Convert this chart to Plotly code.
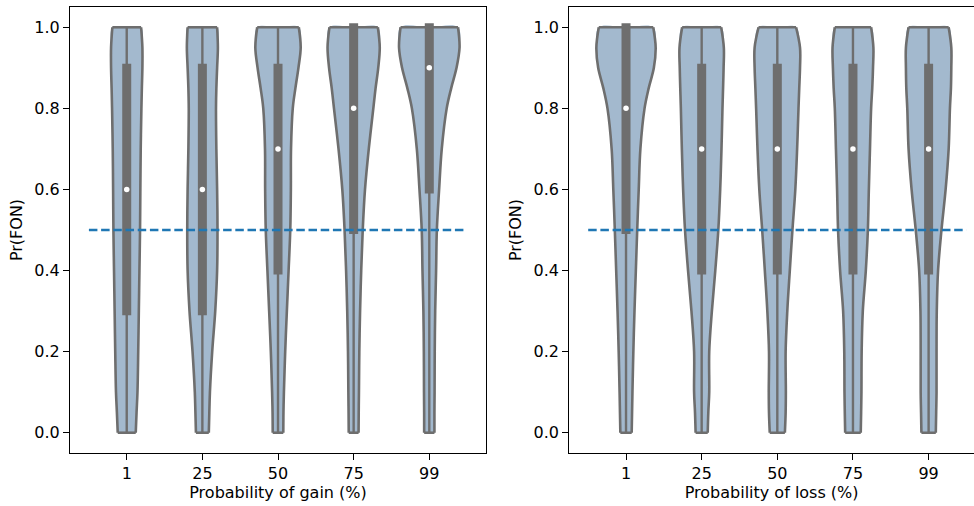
import plotly.graph_objects as go

# ---------------- data ----------------
gain_labels = ["1", "25", "50", "75", "99"]
loss_labels = ["1", "25", "50", "75", "99"]

# density profile grid (Pr(FON) values) and violin half-widths (category units)
grid = [0.0, 0.05, 0.1, 0.2, 0.3, 0.4, 0.5, 0.6, 0.7, 0.8, 0.85, 0.9, 0.95, 1.0]

gain_halfwidths = [
    [0.119, 0.13, 0.142, 0.152, 0.16, 0.168, 0.176, 0.18, 0.185, 0.194, 0.2, 0.207, 0.207, 0.19],
    [0.085, 0.092, 0.1, 0.13, 0.17, 0.195, 0.2, 0.195, 0.185, 0.18, 0.185, 0.195, 0.205, 0.195],
    [0.07, 0.072, 0.078, 0.095, 0.117, 0.14, 0.162, 0.17, 0.172, 0.195, 0.23, 0.27, 0.30, 0.275],
    [0.065, 0.067, 0.07, 0.075, 0.085, 0.1, 0.12, 0.15, 0.2, 0.26, 0.29, 0.325, 0.345, 0.32],
    [0.068, 0.068, 0.07, 0.072, 0.078, 0.09, 0.1, 0.13, 0.165, 0.23, 0.29, 0.36, 0.40, 0.38],
]
loss_halfwidths = [
    [0.075, 0.08, 0.085, 0.097, 0.112, 0.13, 0.148, 0.168, 0.19, 0.245, 0.3, 0.368, 0.392, 0.36],
    [0.08, 0.088, 0.1, 0.1, 0.135, 0.18, 0.22, 0.245, 0.262, 0.275, 0.283, 0.29, 0.293, 0.258],
    [0.1, 0.11, 0.113, 0.11, 0.132, 0.165, 0.2, 0.238, 0.262, 0.28, 0.29, 0.3, 0.3, 0.248],
    [0.103, 0.108, 0.112, 0.115, 0.13, 0.17, 0.197, 0.21, 0.225, 0.24, 0.255, 0.265, 0.27, 0.24],
    [0.095, 0.1, 0.105, 0.105, 0.108, 0.125, 0.17, 0.225, 0.265, 0.282, 0.295, 0.3, 0.3, 0.265],
]

# inner box statistics
gain_q1 = [0.29, 0.29, 0.39, 0.49, 0.59]
gain_median = [0.6, 0.6, 0.7, 0.8, 0.9]
gain_q3 = [0.91, 0.91, 0.91, 1.01, 1.01]
gain_wlo = [0.0, 0.0, 0.0, 0.0, 0.0]
gain_whi = [1.0, 1.0, 1.0, 1.0, 1.0]

loss_q1 = [0.49, 0.39, 0.39, 0.39, 0.39]
loss_median = [0.8, 0.7, 0.7, 0.7, 0.7]
loss_q3 = [1.01, 0.91, 0.91, 0.91, 0.91]
loss_wlo = [0.0, 0.0, 0.0, 0.0, 0.0]
loss_whi = [1.0, 1.0, 1.0, 1.0, 1.0]

reference_level = 0.5

# ---------------- style ----------------
FILL = "rgb(163,185,206)"
GRAY = "rgb(110,110,110)"
BLUE = "#1f77b4"
FONT = "DejaVu Sans"
FS = 16

fig = go.Figure()


def add_panel(labels, halfwidths, q1, med, q3, wlo, whi, xa, ya):
    for i, hw in enumerate(halfwidths):
        c = i
        right_x = [c + w for w in hw]
        left_x = [c - w for w in hw]
        # fill
        fig.add_trace(go.Scatter(
            x=right_x + [c] + left_x[::-1], y=grid + [grid[-1]] + grid[::-1],
            mode="lines", line=dict(width=0, shape="spline", color=FILL),
            fill="toself", fillcolor=FILL, xaxis=xa, yaxis=ya,
            hoverinfo="skip", showlegend=False))
        # outline
        ox = right_x + [None] + left_x + [None] + [left_x[-1], right_x[-1]] + [None] + [left_x[0], right_x[0]]
        oy = grid + [None] + grid + [None] + [grid[-1], grid[-1]] + [None] + [grid[0], grid[0]]
        fig.add_trace(go.Scatter(
            x=ox, y=oy, mode="lines",
            line=dict(width=2.6, shape="spline", color=GRAY),
            xaxis=xa, yaxis=ya, hoverinfo="skip", showlegend=False))
    n = len(halfwidths)
    # whiskers and boxes
    wx, wy, bx, by = [], [], [], []
    for i in range(n):
        wx += [i, i, None]
        wy += [wlo[i], whi[i], None]
        bx += [i, i, None]
        by += [q1[i], q3[i], None]
    fig.add_trace(go.Scatter(x=wx, y=wy, mode="lines", line=dict(width=2.4, color=GRAY),
                             xaxis=xa, yaxis=ya, hoverinfo="skip", showlegend=False))
    fig.add_trace(go.Scatter(x=bx, y=by, mode="lines", line=dict(width=9, color=GRAY),
                             xaxis=xa, yaxis=ya, hoverinfo="skip", showlegend=False))
    fig.add_trace(go.Scatter(x=list(range(n)), y=med, mode="markers",
                             marker=dict(size=5.5, color="white", line=dict(width=0)),
                             xaxis=xa, yaxis=ya, hoverinfo="skip", showlegend=False))
    # reference line
    fig.add_trace(go.Scatter(x=[-0.5, n - 0.5], y=[reference_level, reference_level], mode="lines",
                             line=dict(width=2.4, color=BLUE, dash="8.5px,3.7px"),
                             xaxis=xa, yaxis=ya, hoverinfo="skip", showlegend=False))


add_panel(gain_labels, gain_halfwidths, gain_q1, gain_median, gain_q3, gain_wlo, gain_whi, "x", "y")
add_panel(loss_labels, loss_halfwidths, loss_q1, loss_median, loss_q3, loss_wlo, loss_whi, "x2", "y2")

axis_common = dict(showgrid=False, zeroline=False, showline=True, linecolor="black", linewidth=1.1,
                   ticks="outside", ticklen=6, tickwidth=1.1, tickcolor="black",
                   tickfont=dict(family=FONT, size=FS, color="black"))

ytickvals = [0.0, 0.2, 0.4, 0.6, 0.8, 1.0]
yticktext = ["0.0", "0.2", "0.4", "0.6", "0.8", "1.0"]

fig.update_layout(
    width=974, height=506,
    margin=dict(l=70, r=0, t=7, b=53, autoexpand=False),
    paper_bgcolor="white", plot_bgcolor="white",
    font=dict(family=FONT, size=FS, color="black"),
    xaxis=dict(axis_common, domain=[0, 0.4602], range=[-0.75, 4.75], mirror=True,
               tickvals=list(range(5)), ticktext=gain_labels,
               title=dict(text="Probability of gain (%)", standoff=3,
                          font=dict(family=FONT, size=FS, color="black"))),
    yaxis=dict(axis_common, domain=[0, 1], range=[-0.05, 1.05], mirror=True,
               tickvals=ytickvals, ticktext=yticktext,
               title=dict(text="Pr(FON)", standoff=7,
                          font=dict(family=FONT, size=FS, color="black"))),
    xaxis2=dict(axis_common, domain=[0.5523, 1], range=[-0.75, 4.6], mirror=True, anchor="y2",
                tickvals=list(range(5)), ticktext=loss_labels,
                title=dict(text="Probability of loss (%)", standoff=3,
                           font=dict(family=FONT, size=FS, color="black"))),
    yaxis2=dict(axis_common, domain=[0, 1], range=[-0.05, 1.05], mirror=False, anchor="x2",
                tickvals=ytickvals, ticktext=yticktext,
                title=dict(text="Pr(FON)", standoff=7,
                           font=dict(family=FONT, size=FS, color="black"))),
)

fig.write_html("out.html", config={"displayModeBar": False},
               post_script="document.body.style.margin='0';document.body.style.overflow='hidden';")
